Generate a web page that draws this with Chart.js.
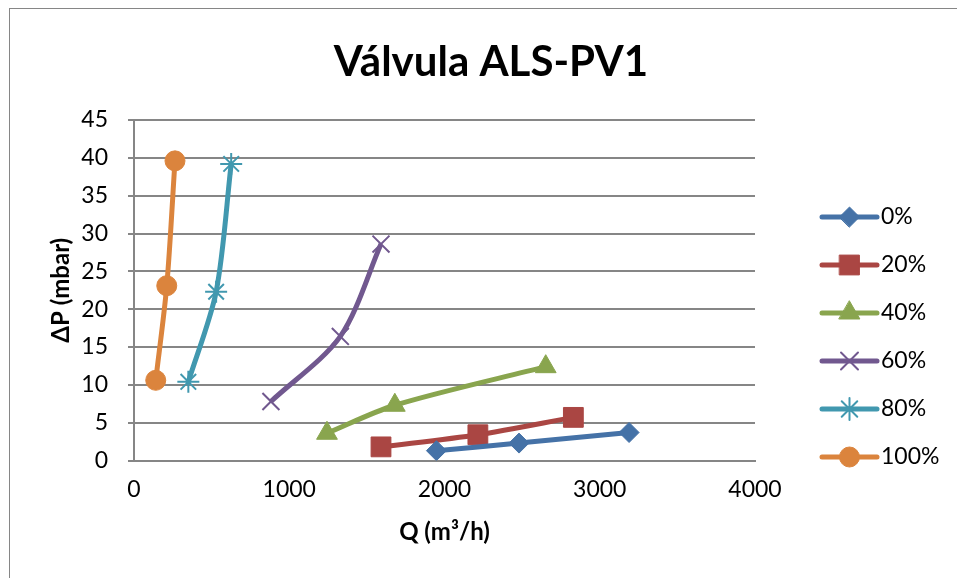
<!DOCTYPE html>
<html>
<head>
<meta charset="utf-8">
<script src="https://cdn.jsdelivr.net/npm/chart.js@4.4.1/dist/chart.umd.min.js"></script>
<style>
  html, body { margin: 0; padding: 0; background: #fff; }
  #wrap { position: relative; width: 957px; height: 578px; }
</style>
</head>
<body>
<div id="wrap"><canvas id="valveChart" width="957" height="578"></canvas></div>
<script>
// Válvula ALS-PV1: caudal Q (m3/h) vs pérdida de carga ΔP (mbar) por apertura
var labels = ['0%', '20%', '40%', '60%', '80%', '100%'];

var q0 = [1948, 2480, 3189];
var dp0 = [1.3, 2.3, 3.7];

var q20 = [1591, 2215, 2830];
var dp20 = [1.8, 3.4, 5.7];

var q40 = [1243, 1680, 2652];
var dp40 = [3.6, 7.3, 12.4];

var q60 = [882, 1329, 1591];
var dp60 = [7.8, 16.4, 28.6];

var q80 = [350, 529, 626];
var dp80 = [10.4, 22.3, 39.2];

var q100 = [140, 211, 264];
var dp100 = [10.6, 23.1, 39.6];

var xTicks = [0, 1000, 2000, 3000, 4000];
var yTicks = [0, 5, 10, 15, 20, 25, 30, 35, 40, 45];

var colors = ['#4572A7', '#AA4643', '#89A54E', '#71588F', '#4198AF', '#DB843D'];
var markers = ['rectRot', 'rect', 'triangle', 'crossRot', 'star', 'circle'];
var radii = [10, 14, 12, 12, 11, 10];

var qs = [q0, q20, q40, q60, q80, q100];
var dps = [dp0, dp20, dp40, dp60, dp80, dp100];

var FONT = 'Lato, "Noto Sans", sans-serif';
var GRID = '#868686';

function toPoints(xs, ys) {
  var pts = [];
  for (var i = 0; i < xs.length; i++) pts.push({x: xs[i], y: ys[i]});
  return pts;
}

var datasets = labels.map(function (lab, i) {
  var thin = markers[i] == 'crossRot' || markers[i] == 'star';
  return {
    label: lab,
    data: toPoints(qs[i], dps[i]),
    borderColor: colors[i],
    backgroundColor: colors[i],
    borderWidth: 5,
    tension: 0.3,
    pointStyle: markers[i],
    pointRadius: radii[i],
    pointBorderWidth: thin ? 2 : 1,
    pointBorderColor: colors[i],
    pointBackgroundColor: colors[i]
  };
});

// marco, título y leyenda estilo Excel
var excelDecor = {
  id: 'excelDecor',
  beforeDraw: function (chart) {
    var ctx = chart.ctx;
    ctx.save();
    ctx.strokeStyle = GRID;
    ctx.lineWidth = 1;
    ctx.strokeRect(9.5, 8.5, 1000, 1000);
    ctx.restore();
  },
  afterDraw: function (chart) {
    var ctx = chart.ctx;
    ctx.save();
    ctx.fillStyle = '#000';
    ctx.font = 'bold 42px ' + FONT;
    ctx.textAlign = 'center';
    ctx.textBaseline = 'middle';
    ctx.fillText('Válvula ALS-PV1', 491, 62);

    var x0 = 822, x1 = 877, y = 217, gap = 48;
    chart.data.datasets.forEach(function (ds, i) {
      var yy = y + i * gap;
      ctx.strokeStyle = ds.borderColor;
      ctx.lineWidth = 5;
      ctx.lineCap = 'round';
      ctx.beginPath();
      ctx.moveTo(x0, yy);
      ctx.lineTo(x1, yy);
      ctx.stroke();
      ctx.fillStyle = ds.backgroundColor;
      ctx.lineWidth = ds.pointBorderWidth;
      Chart.helpers.drawPoint(ctx, {pointStyle: ds.pointStyle, rotation: 0, borderWidth: ds.pointBorderWidth, radius: ds.pointRadius}, (x0 + x1) / 2, yy);
      ctx.fillStyle = '#000';
      ctx.font = '23px ' + FONT;
      ctx.textAlign = 'left';
      ctx.textBaseline = 'middle';
      ctx.fillText(ds.label, 881, yy);
    });
    ctx.restore();
  }
};

new Chart(document.getElementById('valveChart'), {
  type: 'line',
  data: { datasets: datasets },
  plugins: [excelDecor],
  options: {
    responsive: false,
    animation: false,
    layout: { padding: { left: 0, top: 120, right: 202, bottom: 0 } },
    plugins: {
      legend: { display: false },
      title: { display: false },
      tooltip: { enabled: false }
    },
    scales: {
      x: {
        type: 'linear',
        min: 0,
        max: 4000,
        afterBuildTicks: function (s) { s.ticks = xTicks.map(function (v) { return {value: v}; }); },
        ticks: { color: '#000', font: { family: FONT, size: 23 }, padding: 15, maxRotation: 0,
                 callback: function (v) { return String(v); } },
        grid: { display: false, drawTicks: false },
        border: { display: true, color: GRID, width: 2 },
        title: { display: true, text: 'Q (m³/h)', color: '#000', font: { family: FONT, size: 24, weight: 'bold' }, padding: 31 },
        afterFit: function (s) { s.height = 117.5; }
      },
      y: {
        type: 'linear',
        min: 0,
        max: 45,
        afterBuildTicks: function (s) { s.ticks = yTicks.map(function (v) { return {value: v}; }); },
        ticks: { color: '#000', font: { family: FONT, size: 23 }, padding: 20 },
        grid: { color: GRID, lineWidth: 2, tickLength: 6, drawTicks: true },
        border: { display: true, color: GRID, width: 2 },
        title: { display: true, text: 'ΔP (mbar)', color: '#000', font: { family: FONT, size: 24, weight: 'bold' }, padding: 47 },
        afterFit: function (s) { s.width = 134; }
      }
    }
  }
});
</script>
</body>
</html>
